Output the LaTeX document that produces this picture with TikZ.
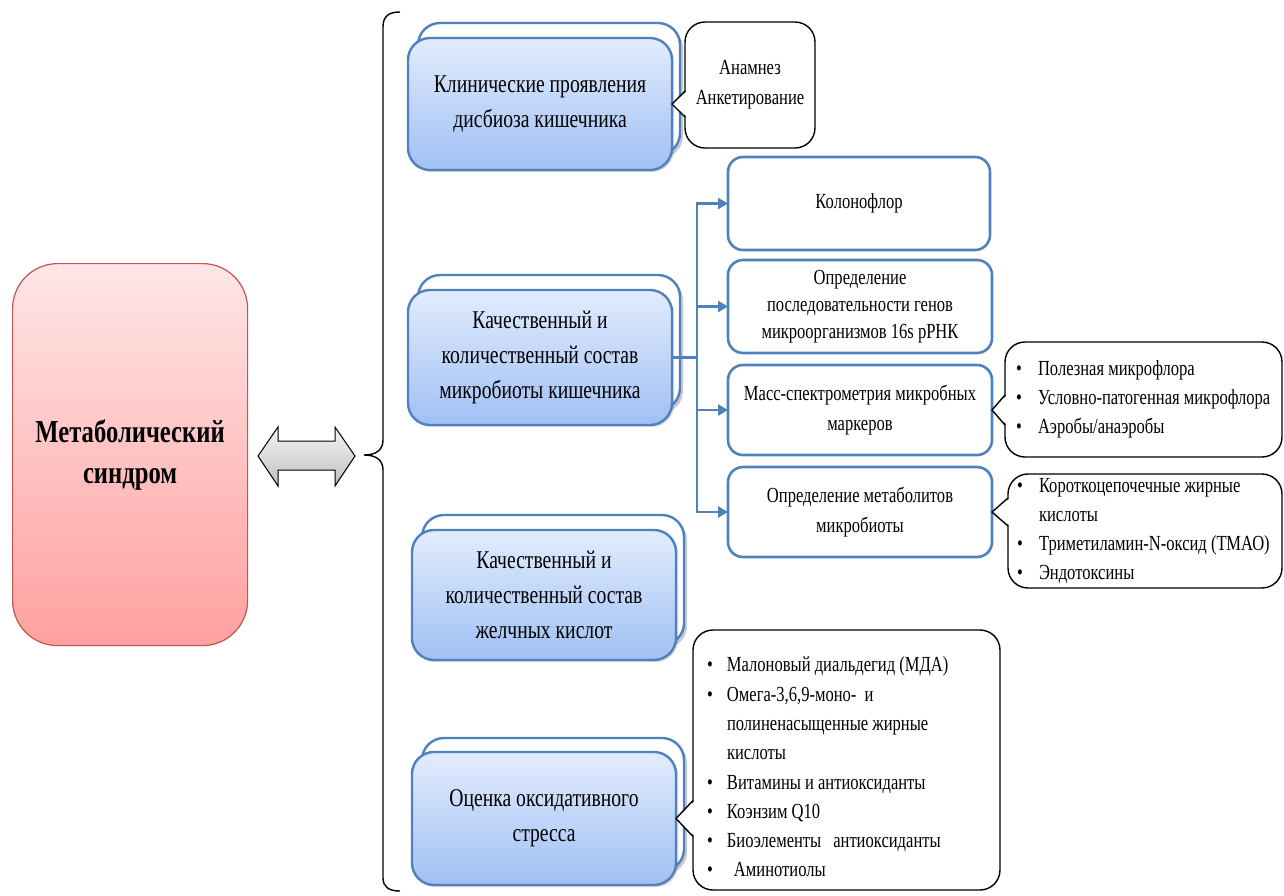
\documentclass[tikz,border=0pt]{standalone}
\usepackage{fontspec}
\setmainfont{Liberation Serif}[FakeStretch=0.77]
\usetikzlibrary{arrows.meta,shadows}

\definecolor{boxblue}{RGB}{79,129,189}
\definecolor{bluetop}{RGB}{226,236,253}
\definecolor{bluebot}{RGB}{160,192,244}
\definecolor{redtop}{RGB}{255,230,230}
\definecolor{redbot}{RGB}{255,160,160}
\definecolor{redline}{RGB}{196,84,80}

% bullet item and continuation line for the lists
\newlength\bulind
\setlength\bulind{22pt}
\newcommand{\bitem}[1]{\makebox[\bulind][l]{\textbullet}\mbox{#1}}
\newcommand{\bcont}[1]{\hspace*{\bulind}\mbox{#1}}

\tikzset{
  x=1pt, y=-1pt,
  backbox/.style={draw=boxblue, line width=2.4pt, rounded corners=22pt, fill=white,
    drop shadow={shadow xshift=3pt, shadow yshift=-3pt, opacity=.3, fill=black!70},
    anchor=north west, minimum width=262pt, outer sep=0pt},
  frontbox/.style={draw=boxblue, line width=2.4pt, rounded corners=22pt,
    top color=bluetop, bottom color=bluebot,
    drop shadow={shadow xshift=2pt, shadow yshift=-2pt, opacity=.25, fill=black!60},
    anchor=north west, minimum width=264pt, align=flush center, outer sep=0pt,
    font=\fontsize{25.5}{35}\selectfont},
  methbox/.style={draw=boxblue, line width=2.6pt, rounded corners=15pt, fill=white,
    anchor=north west, align=flush center, outer sep=0pt,
    font=\fontsize{21.5}{30}\selectfont},
  callbox/.style={draw=black, line width=1.4pt, rounded corners=20pt, fill=white,
    anchor=north west, outer sep=0pt},
  listfont/.style={font=\fontsize{21.5}{29.3}\selectfont, align=flush left},
  conn/.style={draw=boxblue, line width=2.4pt},
  tipline/.style={draw=black, line width=1.4pt, line join=miter},
}

\begin{document}
\begin{tikzpicture}
\useasboundingbox (0,0) rectangle (1284,895);
\fill[white] (0,0) rectangle (1284,895);

% central box
\node[draw=redline, line width=1.2pt, rounded corners=45pt,
      top color=redtop, bottom color=redbot, anchor=north west,
      minimum width=235pt, minimum height=382pt, align=flush center,
      font=\fontsize{32}{41}\selectfont\bfseries] (ms) at (12,263)
      {Метаболический\\синдром};

% two-headed arrow
\draw[line width=1pt, line join=miter, top color=gray!8, bottom color=gray!50]
  (258,456) -- (278,427) -- (278,441) -- (335,441) -- (335,427) -- (355,456)
  -- (335,486) -- (335,470) -- (278,470) -- (278,486) -- cycle;

% curly bracket
\draw[line width=1.4pt]
  (400,12) .. controls (389,12) and (383,16) .. (383,27) -- (383,440)
  .. controls (383,450) and (376,455) .. (364,455)
  .. controls (376,455) and (383,460) .. (383,470) -- (383,878)
  .. controls (383,887) and (389,891) .. (400,891);

% stacked blue boxes
\node[backbox, minimum height=132pt] (b1k) at (418,23) {};
\node[frontbox, minimum height=132pt] (b1f) at (408,38)
  {Клинические проявления\\дисбиоза кишечника};

\node[backbox, minimum height=135pt] (b2k) at (418,275) {};
\node[frontbox, minimum height=135pt] (b2f) at (408,290)
  {Качественный и\\количественный состав\\микробиоты кишечника};

\node[backbox, minimum height=130pt] (b3k) at (422,515) {};
\node[frontbox, minimum height=130pt] (b3f) at (412,530)
  {Качественный и\\количественный состав\\желчных кислот};

\node[backbox, minimum height=133pt] (b4k) at (422,738) {};
\node[frontbox, minimum height=133pt] (b4f) at (412,752)
  {Оценка оксидативного\\стресса};

% method boxes
\node[methbox, minimum width=262pt, minimum height=93pt] (k1) at (728,157) {Колонофлор};
\node[methbox, minimum width=264pt, minimum height=93pt, font=\fontsize{21.5}{27}\selectfont] (k2) at (728,260)
  {Определение\\последовательности генов\\микроорганизмов 16s рРНК};
\node[methbox, minimum width=264pt, minimum height=90pt] (k3) at (728,365)
  {Масс-спектрометрия микробных\\маркеров};
\node[methbox, minimum width=264pt, minimum height=90pt] (k4) at (728,467)
  {Определение метаболитов\\микробиоты};

% branching connector
\coordinate (tr) at ([xshift=25pt]b2f.east);
\draw[conn] (b2f.east) -- (tr);
\foreach \t in {k1,k2,k3,k4}
  \draw[conn, -{Triangle[length=10pt,width=11pt]}] (tr) |- (\t.west);

% callouts
\node[callbox, minimum width=130pt, minimum height=126pt, align=flush center,
      font=\fontsize{21.5}{30}\selectfont] (c1) at (685,22)
  {Анамнез\\Анкетирование};

\node[callbox, listfont, inner xsep=11pt, text width=255pt,
      minimum height=115pt] (c2) at (1005,342)
  {\bitem{Полезная микрофлора}\\
   \bitem{Условно-патогенная микрофлора}\\
   \bitem{Аэробы/анаэробы}};

\node[callbox, listfont, inner xsep=9pt, text width=256pt,
      minimum height=114pt] (c3) at (1008,474)
  {\bitem{Короткоцепочечные жирные}\\
   \bcont{кислоты}\\
   \bitem{Триметиламин-N-оксид (ТМАО)}\\
   \bitem{Эндотоксины}};

\node[callbox, listfont, inner xsep=14pt, text width=279pt,
      minimum height=260pt] (c4) at (693,630)
  {\setlength\bulind{20pt}%
   \rule{0pt}{29pt}\bitem{Малоновый диальдегид (МДА)}\\
   \bitem{Омега-3,6,9-моно-\ \ и}\\
   \bcont{полиненасыщенные жирные}\\
   \bcont{кислоты}\\
   \bitem{Витамины и антиоксиданты}\\
   \bitem{Коэнзим Q10}\\
   \bitem{Биоэлементы\hspace*{12pt}антиоксиданты}\\
   \bitem{\hspace*{7pt}Аминотиолы}};

% callout pointers
\coordinate (p1) at (c1.west |- b1f.east);
\coordinate (p2) at (c2.west |- k3.east);
\coordinate (p3) at (c3.west |- k4.east);
\coordinate (p4) at (c4.west |- b4f.east);
\foreach \p/\q/\h in {p1/b1f.east/13, p2/k3.east/15, p3/k4.east/14, p4/b4f.east/18}{
  \fill[white] ([xshift=2.5pt,yshift=\h pt]\p) -- (\q) -- ([xshift=2.5pt,yshift=-\h pt]\p) -- cycle;
  \draw[tipline] ([yshift=\h pt]\p) -- (\q) -- ([yshift=-\h pt]\p);
}
\end{tikzpicture}
\end{document}
